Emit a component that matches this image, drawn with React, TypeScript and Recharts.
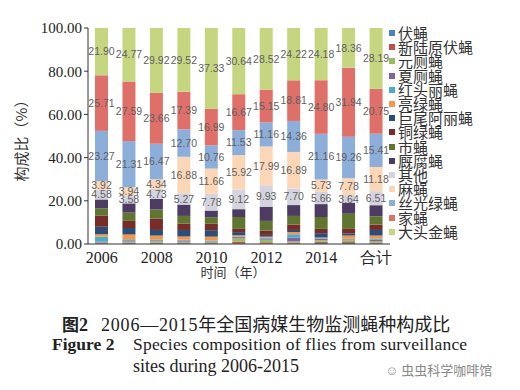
import { BarChart, Bar, XAxis, YAxis, LabelList } from "recharts";

const categories = ["2006", "2007", "2008", "2009", "2010", "2011", "2012", "2013", "2014", "2015", "合计"];

// stacked from the bottom up
const fuying = [0.2, 0.3, 0.3, 0.3, 0.2, 0.3, 0.3, 0.3, 0.5, 0.4, 0.3];
const xinluyuanfuying = [0.2, 0.3, 0.3, 0.4, 0.2, 0.8, 0.5, 0.4, 0.6, 0.5, 0.4];
const yuancesying = [0.3, 0.5, 0.6, 0.4, 0.4, 1.5, 1.2, 0.5, 0.7, 0.8, 0.7];
const xiacesying = [0.4, 0.6, 0.5, 0.5, 0.3, 0.6, 0.6, 1.8, 0.6, 0.4, 0.6];
const hongtouliying = [2.3, 0.5, 0.4, 0.4, 0.5, 0.3, 0.4, 1.5, 0.3, 0.3, 0.6];
const lianglvying = [1.1, 2.2, 1.8, 1.5, 1.8, 0.5, 0.4, 1.0, 0.3, 1.5, 1.3];
const juweialiying = [3.5, 3.0, 2.6, 3.0, 3.0, 1.5, 0.8, 1.0, 2.0, 1.0, 2.6];
const tonglvying = [5.1, 3.3, 5.3, 3.0, 3.0, 1.5, 2.0, 2.5, 2.0, 2.1, 2.5];
const shiying = [3.4, 3.8, 4.2, 3.5, 3.0, 5.5, 4.5, 4.0, 5.5, 7.0, 3.8];
const jiufuying = [4.12, 4.31, 4.88, 5.24, 3.08, 3.62, 6.55, 5.02, 5.97, 5.02, 5.16];
const qita = [4.58, 3.58, 4.73, 5.27, 7.78, 9.12, 9.93, 7.7, 5.66, 3.64, 6.51];
const maying = [3.92, 3.94, 4.34, 16.88, 11.66, 15.92, 17.99, 16.89, 5.73, 7.78, 11.18];
const siguanglvying = [23.27, 21.31, 16.47, 12.7, 10.76, 11.53, 11.16, 14.36, 21.16, 19.26, 15.41];
const jiaying = [25.71, 27.59, 23.66, 17.39, 16.99, 16.67, 15.15, 18.81, 24.8, 31.94, 20.75];
const datoujinying = [21.9, 24.77, 29.92, 29.52, 37.33, 30.64, 28.52, 24.22, 24.18, 18.36, 28.19];

const series = [
  { name: "伏蝇", values: fuying, color: "#4F81BD", label: false },
  { name: "新陆原伏蝇", values: xinluyuanfuying, color: "#C0504D", label: false },
  { name: "元厕蝇", values: yuancesying, color: "#9BBB59", label: false },
  { name: "夏厕蝇", values: xiacesying, color: "#8064A2", label: false },
  { name: "红头丽蝇", values: hongtouliying, color: "#4BACC6", label: false },
  { name: "亮绿蝇", values: lianglvying, color: "#F79646", label: false },
  { name: "巨尾阿丽蝇", values: juweialiying, color: "#2C4D75", label: false },
  { name: "铜绿蝇", values: tonglvying, color: "#772C2A", label: false },
  { name: "市蝇", values: shiying, color: "#5F7530", label: false },
  { name: "厩腐蝇", values: jiufuying, color: "#4D3B62", label: false },
  { name: "其他", values: qita, color: "#D4D4DE", label: true },
  { name: "麻蝇", values: maying, color: "#FBD7B8", label: true },
  { name: "丝光绿蝇", values: siguanglvying, color: "#8EAEDA", label: true },
  { name: "家蝇", values: jiaying, color: "#DF6F69", label: true },
  { name: "大头金蝇", values: datoujinying, color: "#C6D680", label: true },
];

const yTicks = [0, 10, 20, 30, 40, 50, 60, 70, 80, 90, 100];

const data = categories.map((c, i) => {
  const row: any = { name: c };
  series.forEach((s) => (row[s.name] = s.values[i]));
  return row;
});

const serif = "'Liberation Serif', 'DejaVu Serif', serif";
const cjk = "'Noto Sans CJK SC', sans-serif";

const App = () => {
  return (
    <div style={{ position: "absolute", left: 0, top: 0, width: 520, height: 390, background: "#fff" }}>
      <BarChart
        width={520}
        height={290}
        data={data}
        margin={{ top: 28, right: 130, bottom: 16, left: 0 }}
        barSize={13}
      >
        <XAxis
          dataKey="name"
          interval={1}
          height={30}
          tickLine={false}
          axisLine={{ stroke: "#333" }}
          tick={{ fontFamily: serif, fontSize: 16, fill: "#222" }}
        />
        <YAxis
          width={88}
          domain={[0, 100]}
          ticks={yTicks}
          tickFormatter={(v: number) => v.toFixed(2)}
          axisLine={{ stroke: "#333" }}
          tickLine={{ stroke: "#333" }}
          tickSize={4}
          tick={{ fontFamily: serif, fontSize: 15, fill: "#222" }}
        />
        {series.map((s) => (
          <Bar key={s.name} dataKey={s.name} stackId="a" fill={s.color} isAnimationActive={false}>
            {s.label && (
              <LabelList
                dataKey={s.name}
                position="center"
                formatter={(v: any) => Number(v).toFixed(2)}
                style={{ fontFamily: "'Liberation Sans', sans-serif", fontSize: 10.5, fill: "#5f5f5f" }}
              />
            )}
          </Bar>
        ))}
      </BarChart>
      {/* legend */}
      <div style={{ position: "absolute", left: 389, top: 26, fontFamily: cjk, fontSize: 15, color: "#333" }}>
        {series.map((s) => (
          <div key={s.name} style={{ display: "flex", alignItems: "center", height: 14.2, whiteSpace: "nowrap" }}>
            <span style={{ width: 6, height: 6, background: s.color, marginRight: 3, display: "inline-block" }} />
            <span style={{ lineHeight: "14px" }}>{s.name}</span>
          </div>
        ))}
      </div>
      <div
        style={{
          position: "absolute",
          left: 12,
          top: 137,
          transform: "translate(-50%, -50%) rotate(-90deg)",
          marginLeft: 8,
          fontFamily: cjk,
          fontSize: 15,
          color: "#333",
          whiteSpace: "nowrap",
        }}
      >
        构成比（%）
      </div>
      <div
        style={{
          position: "absolute",
          left: 0,
          width: 466,
          top: 262,
          textAlign: "center",
          fontFamily: cjk,
          fontSize: 13,
          color: "#333",
        }}
      >
        时间（年）
      </div>
      <div
        style={{
          position: "absolute",
          left: 62,
          top: 310,
          fontFamily: serif,
          fontSize: 18,
          color: "#222",
          whiteSpace: "nowrap",
        }}
      >
        <span style={{ fontFamily: cjk, fontWeight: "bold", fontSize: 17 }}>图</span>
        <b>2</b>
        <span style={{ marginLeft: 13, letterSpacing: 0.8 }}>2006—2015</span>
        <span style={{ fontFamily: cjk, fontSize: 18 }}>年全国病媒生物监测蝇种构成比</span>
      </div>
      <div
        style={{
          position: "absolute",
          left: 52,
          top: 334,
          fontFamily: serif,
          fontSize: 17.5,
          color: "#222",
          whiteSpace: "nowrap",
        }}
      >
        <b>Figure 2</b>
        <span style={{ position: "absolute", left: 81, letterSpacing: 0.2 }}>
          Species composition of flies from surveillance
        </span>
      </div>
      <div
        style={{
          position: "absolute",
          left: 133,
          top: 356,
          fontFamily: serif,
          fontSize: 18,
          color: "#222",
          whiteSpace: "nowrap",
        }}
      >
        sites during 2006-2015
      </div>
      <div
        style={{
          position: "absolute",
          left: 385,
          top: 360,
          fontFamily: cjk,
          fontSize: 13,
          color: "#888",
          whiteSpace: "nowrap",
        }}
      >
        ☺ 虫虫科学咖啡馆
      </div>
    </div>
  );
};

export default App;
